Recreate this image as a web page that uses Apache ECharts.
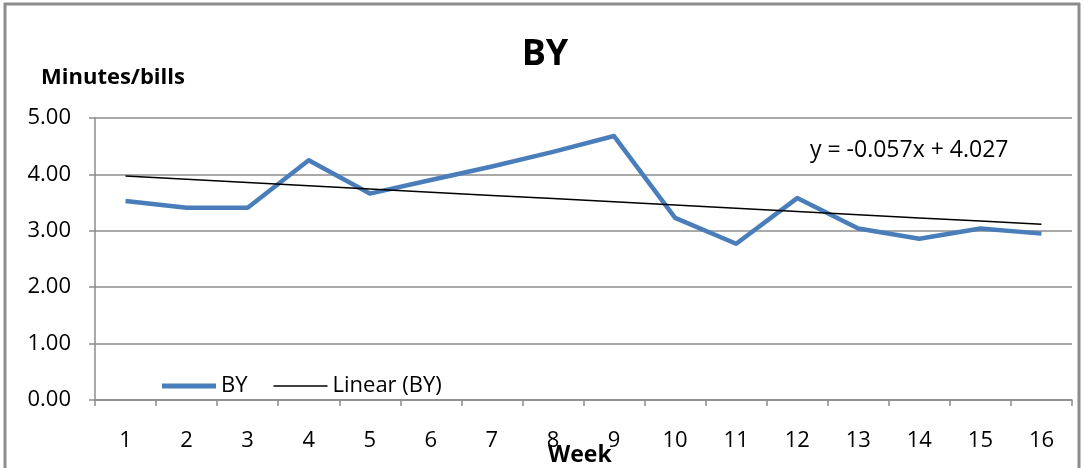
<!DOCTYPE html>
<html>
<head>
<meta charset="utf-8">
<script src="https://cdn.jsdelivr.net/npm/echarts@6/dist/echarts.min.js"></script>
<style>
  html, body { margin: 0; padding: 0; background: #fff; }
  #chart { width: 1084px; height: 468px; }
</style>
</head>
<body>
<div id="chart"></div>
<script>
// Weekly minutes per bill
const weeks = ['1','2','3','4','5','6','7','8','9','10','11','12','13','14','15','16'];
const byValues = [3.53, 3.41, 3.41, 4.25, 3.66, 3.90, 4.14, 4.40, 4.68, 3.23, 2.77, 3.58, 3.04, 2.86, 3.04, 2.95];
const yTicks = [0, 1, 2, 3, 4, 5];

// Linear trend as stated in the equation label
const trendSlope = -0.057;
const trendIntercept = 4.027;
const trendValues = weeks.map((w, i) => +(trendSlope * (i + 1) + trendIntercept).toFixed(4));
const trendLabel = 'y = ' + trendSlope + 'x + ' + trendIntercept;

const FONT = '"Open Sans", Lato, sans-serif';
const GRID_COLOR = '#8c8c8c';

const chart = echarts.init(document.getElementById('chart'));
chart.setOption({
  animation: false,
  backgroundColor: '#fff',
  textStyle: { fontFamily: FONT },
  grid: { left: 95, right: 12, top: 118, bottom: 68 },
  legend: {
    left: 157, top: 370,
    itemWidth: 54, itemHeight: 22, itemGap: 26,
    textStyle: { fontFamily: FONT, fontSize: 22, color: '#000', padding: [0, 0, 0, 0] },
    data: [
      { name: 'BY', icon: 'path://M0,0 L54,0 L54,5 L0,5 Z', itemStyle: { color: '#4a7ebb' } },
      { name: 'Linear (BY)', icon: 'path://M0,0 L54,0 L54,1.4 L0,1.4 Z', itemStyle: { color: '#000' } }
    ]
  },
  xAxis: {
    type: 'category',
    data: weeks,
    boundaryGap: true,
    axisLine: { lineStyle: { color: GRID_COLOR, width: 1.5 } },
    axisTick: { show: true, length: 6, lineStyle: { color: GRID_COLOR, width: 1.5 } },
    axisLabel: { fontFamily: FONT, fontSize: 22, color: '#000', margin: 30 },
    splitLine: { show: false }
  },
  yAxis: {
    type: 'value',
    min: yTicks[0], max: yTicks[yTicks.length - 1], interval: 1,
    axisLine: { show: true, lineStyle: { color: GRID_COLOR, width: 1.5 } },
    axisTick: { show: true, length: 6, lineStyle: { color: GRID_COLOR, width: 1.5 } },
    axisLabel: { fontFamily: FONT, fontSize: 22, color: '#000', margin: 24, formatter: v => v.toFixed(2) },
    splitLine: { lineStyle: { color: GRID_COLOR, width: 1.5 } }
  },
  series: [
    {
      name: 'BY', type: 'line', data: byValues,
      symbol: 'none',
      lineStyle: { color: '#4a7ebb', width: 4.5, join: 'round' },
      itemStyle: { color: '#4a7ebb' },
      z: 3
    },
    {
      name: 'Linear (BY)', type: 'line', data: trendValues,
      symbol: 'none',
      lineStyle: { color: '#000', width: 1.5 },
      itemStyle: { color: '#000' },
      z: 4
    }
  ],
  graphic: [
    { type: 'line', shape: { x1: 4, y1: 4, x2: 1080, y2: 4 }, style: { stroke: '#8c8c8c', lineWidth: 3 } },
    { type: 'line', shape: { x1: 5, y1: 3, x2: 5, y2: 468 }, style: { stroke: '#8c8c8c', lineWidth: 3 } },
    { type: 'line', shape: { x1: 1079, y1: 3, x2: 1079, y2: 468 }, style: { stroke: '#8c8c8c', lineWidth: 3 } },
    { type: 'text', x: 545, y: 55, style: { text: 'BY', font: 'bold 36px ' + FONT, fill: '#000', align: 'center', verticalAlign: 'middle' } },
    { type: 'text', x: 41, y: 78, style: { text: 'Minutes/bills', font: 'bold 22px ' + FONT, fill: '#000', align: 'left', verticalAlign: 'middle' } },
    { type: 'text', x: 548, y: 455, style: { text: 'Week', font: 'bold 23px ' + FONT, fill: '#000', align: 'left', verticalAlign: 'middle' } },
    { type: 'text', x: 810, y: 150, style: { text: trendLabel, font: '23px ' + FONT, fill: '#000', align: 'left', verticalAlign: 'middle' } }
  ]
});
</script>
</body>
</html>
